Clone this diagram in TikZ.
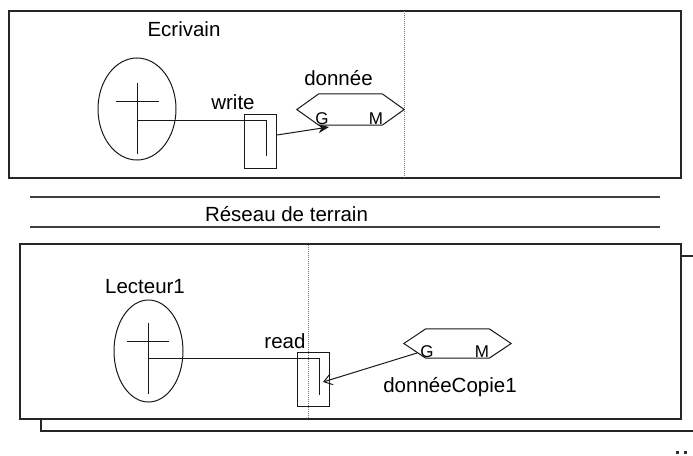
\documentclass[tikz,border=0pt]{standalone}
\usepackage{fontspec}
\setmainfont{Liberation Sans}
\usetikzlibrary{arrows.meta}
\begin{document}
\begin{tikzpicture}[x=1pt,y=-1pt,
  lbl/.style={font=\fontsize{20.5}{24}\selectfont, anchor=base, inner sep=0},
  small/.style={font=\fontsize{17}{20}\selectfont, anchor=base, inner sep=0},
  frame/.style={draw=black!85, line width=1.2pt, fill=white},
  thin/.style={draw=black!90, line width=1pt},
  opbox/.style={draw=black!90, line width=1pt, minimum width=32pt, minimum height=54pt, inner sep=0},
  hexbox/.style={inner sep=0, minimum width=107pt},
  sep/.style={draw=black!75, line width=1.6pt},
  vdots/.style={draw=black!55, line width=0.8pt, dash pattern=on 1pt off 1pt}
]
\useasboundingbox (0,0) rectangle (693,455);
\clip (0,0) rectangle (693,455);

% ---------- top frame ----------
\path[frame] (9,11) rectangle (681,178);
\draw[vdots] (404,11) -- (404,178);

\node[lbl] (ecr) at (184,36) {Ecrivain};
\draw[thin] (137,109) ellipse [x radius=39, y radius=51];
\node[inner sep=0, minimum width=78pt, minimum height=102pt] (ecrA) at (137,109) {};
\draw[thin] (116,101) -- (159,101);
\draw[thin] (137,83) -- (137,154);
\coordinate (ecrC) at (137,120);

\node[opbox] (wbox) at (260,141) {};
\node[lbl] (write) at (233,109) {write};
\coordinate (wend) at (266,156);
\draw[thin] (ecrC) -| (wend);

\node[hexbox, minimum height=31pt] (dat) at (350.5,109.5) {};
\draw[thin] (dat.west) -- ([xshift=22pt]dat.north west) -- ([xshift=-22pt]dat.north east)
  -- (dat.east) -- ([xshift=-22pt]dat.south east) -- ([xshift=22pt]dat.south west) -- cycle;
\node[lbl] (datl) at (338.5,85) {donnée};
\node[small] (dG) at (322,124) {G};
\node[small] (dM) at (376,124) {M};
\coordinate (wstart) at (277,135);
\coordinate (gend) at (329,127);
\draw[thin, -{Stealth[length=11pt, width=9pt]}] (wstart) -- (gend);

% ---------- network ----------
\draw[sep] (30,197) -- (660,197);
\draw[sep] (30,227) -- (660,227);
\node[lbl] (net) at (286.5,221) {Réseau de terrain};

% ---------- bottom frame ----------
\path[frame] (41,256) rectangle (710,431);
\path[frame] (20,244) rectangle (681,419);
\draw[vdots] (308,245) -- (308,419);

\node[lbl] (lect) at (145,293) {Lecteur1};
\draw[thin] (148.5,351) ellipse [x radius=34.5, y radius=51];
\node[inner sep=0, minimum width=69pt, minimum height=102pt] (lectA) at (148.5,351) {};
\draw[thin] (127,341) -- (169,341);
\draw[thin] (148,323) -- (148,394);
\coordinate (lectC) at (148,358);

\node[opbox] (rbox) at (313,379) {};
\node[lbl] (read) at (285,348) {read};
\coordinate (rend) at (319,395);
\draw[thin] (lectC) -| (rend);

\node[hexbox, minimum height=29pt] (cop) at (457.5,343.5) {};
\draw[thin] (cop.west) -- ([xshift=22pt]cop.north west) -- ([xshift=-22pt]cop.north east)
  -- (cop.east) -- ([xshift=-22pt]cop.south east) -- ([xshift=22pt]cop.south west) -- cycle;
\node[small] (cG) at (427,357) {G};
\node[small] (cM) at (482,357) {M};
\node[lbl] (copl) at (450,392) {donnéeCopie1};
\coordinate (cstart) at (417,353);
\coordinate (rtip) at (323,382);
\draw[thin, -{Straight Barb[length=8pt, width=11pt]}] (cstart) -- (rtip);

% ---------- dots ----------
\fill[black!80] (676,451) rectangle (678.5,453.5);
\fill[black!80] (684,451) rectangle (686.5,453.5);
\end{tikzpicture}
\end{document}
